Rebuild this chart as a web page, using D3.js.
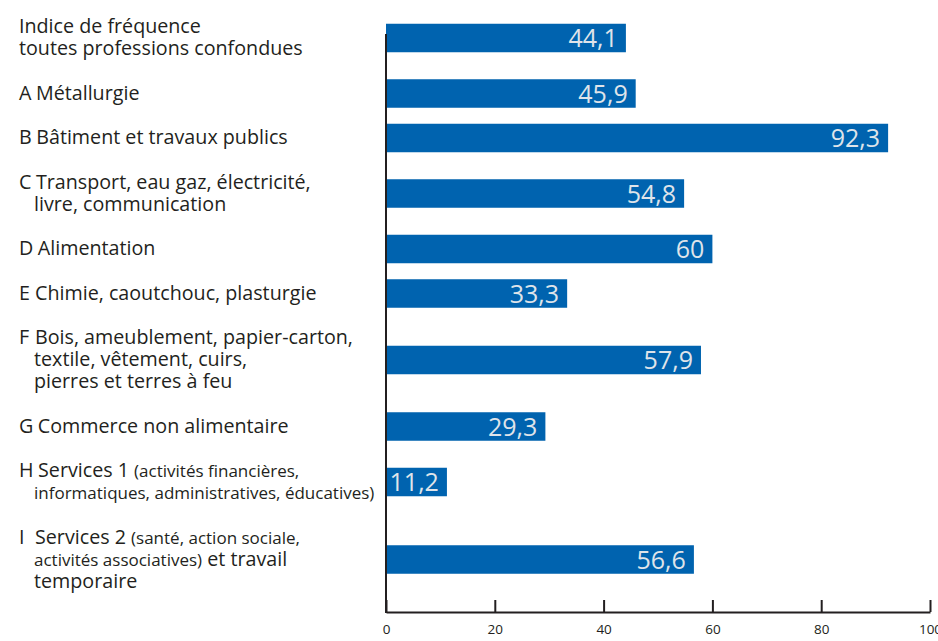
<!DOCTYPE html>
<html>
<head>
<meta charset="utf-8">
<script src="https://cdn.jsdelivr.net/npm/d3@7"></script>
<style>
  body { margin: 0; background: #fff; }
  svg { display: block; font-family: 'Open Sans', sans-serif; }
</style>
</head>
<body>
<script>
// codes des secteurs (vide pour la ligne "toutes professions")
const codes = ['', 'A', 'B', 'C', 'D', 'E', 'F', 'G', 'H', 'I'];

// libellés, une entrée par ligne
const labels = [
  ['Indice de fréquence', 'toutes professions confondues'],
  ['Métallurgie'],
  ['Bâtiment et travaux publics'],
  ['Transport, eau gaz, électricité,', 'livre, communication'],
  ['Alimentation'],
  ['Chimie, caoutchouc, plasturgie'],
  ['Bois, ameublement, papier-carton,', 'textile, vêtement, cuirs,', 'pierres et terres à feu'],
  ['Commerce non alimentaire'],
  ['Services 1 (activités financières,', 'informatiques, administratives, éducatives)'],
  ['Services 2 (santé, action sociale,', 'activités associatives) et travail', 'temporaire']
];

const values = [44.1, 45.9, 92.3, 54.8, 60, 33.3, 57.9, 29.3, 11.2, 56.6];

const xTicks = [0, 20, 40, 60, 80, 100];

const width = 938, height = 641;
const lineH = 22;       // hauteur d'une ligne de libellé
const gapUnits = 22.5 / lineH;
const barH = 28.5;
const bigFont = '19.7px', smallFont = '17px';

const svg = d3.select('body')
  .append('svg')
  .attr('width', width)
  .attr('height', height);

const x = d3.scaleLinear().domain([0, 100]).range([386, 930]);

// chaque secteur occupe (nb de lignes + intervalle) unités
const slots = labels.map(l => l.length + gapUnits);
const starts = [0].concat(Array.from(d3.cumsum(slots)).slice(0, -1));
const totalUnits = d3.sum(slots);
const y = d3.scaleLinear().domain([0, totalUnits]).range([4.75, 4.75 + totalUnits * lineH]);

const centre = i => y(starts[i] + slots[i] / 2);

const fr = d3.formatLocale({ decimal: ',', thousands: ' ', grouping: [3], currency: ['', ' €'] });
const fmt = fr.format('~g');

const axisY = 612;

// barres
svg.selectAll('.bar')
  .data(values)
  .enter()
  .append('rect')
  .attr('class', 'bar')
  .attr('x', x(0))
  .attr('y', (d, i) => centre(i) - barH / 2)
  .attr('width', d => x(d) - x(0))
  .attr('height', barH)
  .style('fill', '#0063af');

// valeurs
svg.selectAll('.val')
  .data(values)
  .enter()
  .append('text')
  .attr('class', 'val')
  .attr('x', d => x(d) - 8)
  .attr('y', (d, i) => centre(i))
  .attr('dy', '0.36em')
  .style('text-anchor', 'end')
  .style('font-size', '25px')
  .style('fill', '#dfe4ea')
  .text(d => fmt(d));

// libellés
const lab = svg.selectAll('.label')
  .data(labels)
  .enter()
  .append('g')
  .attr('class', 'label');

lab.each(function (lines, i) {
  let depth = 0;
  const g = d3.select(this);
  lines.forEach(function (line, j) {
    const first = j === 0;
    const t = g.append('text')
      .attr('x', (first || !codes[i]) ? 19 : 34)
      .attr('y', centre(i) + (j - (lines.length - 1) / 2) * lineH - 1)
      .attr('dy', '0.36em')
      .style('font-size', bigFont)
      .style('fill', '#231f20');
    let startX = null;
    if (first && codes[i]) {
      const c = t.append('tspan').text(codes[i]);
      startX = Math.max(35, 19 + c.node().getComputedTextLength() + 4.5);
    }
    // les parties entre parenthèses sont plus petites
    let buf = '', small = depth > 0;
    const flush = () => {
      if (buf) {
        const s = t.append('tspan').style('font-size', small ? smallFont : null).text(buf);
        if (startX !== null) { s.attr('x', startX); startX = null; }
      }
      buf = '';
    };
    for (const ch of line) {
      if (ch === '(' && depth === 0) { flush(); small = true; depth++; buf += ch; continue; }
      buf += ch;
      if (ch === ')') { depth--; if (depth === 0) { flush(); small = false; } }
    }
    flush();
  });
});

// axe horizontal
const xAxis = d3.axisBottom(x)
  .tickValues(xTicks)
  .tickSizeInner(-12)
  .tickSizeOuter(0)
  .tickPadding(12)
  .tickFormat(d3.format('d'));

const ax = svg.append('g')
  .attr('transform', 'translate(0,' + axisY + ')')
  .call(xAxis);

ax.select('.domain').attr('stroke', '#231f20').attr('stroke-width', 2);
ax.selectAll('.tick line').attr('stroke', '#231f20').attr('stroke-width', 2);
ax.selectAll('.tick text')
  .style('font-family', "'Open Sans', sans-serif")
  .style('font-size', '13.5px')
  .style('fill', '#231f20');

// axe vertical
svg.append('line')
  .attr('x1', x(0))
  .attr('x2', x(0))
  .attr('y1', centre(0) - 4)
  .attr('y2', axisY + 1)
  .attr('stroke', '#231f20')
  .attr('stroke-width', 2);
</script>
</body>
</html>
